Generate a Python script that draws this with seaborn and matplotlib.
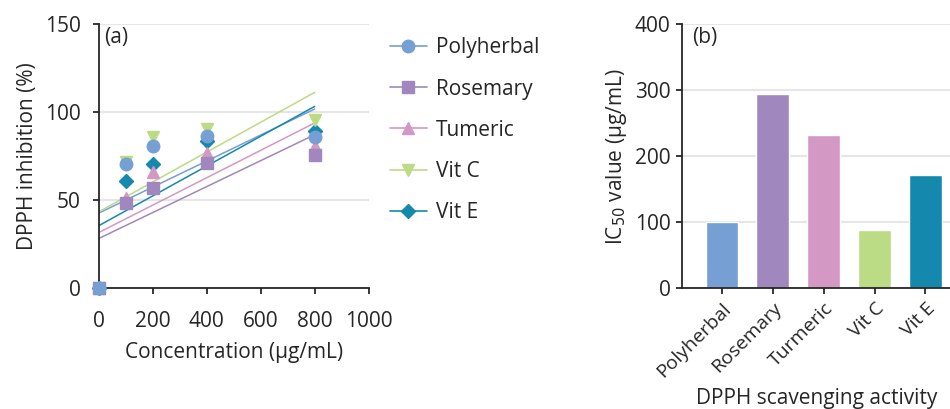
import numpy as np
import pandas as pd
import matplotlib.pyplot as plt
import seaborn as sns
from matplotlib.lines import Line2D

# panel (a) data: DPPH inhibition (%) vs concentration
concentration = [0, 100, 200, 400, 800]
polyherbal = [0, 70.6, 81.0, 86.6, 86.2]
rosemary = [0, 48.5, 57.0, 71.0, 75.5]
tumeric = [0, 51.5, 66.0, 77.0, 80.6]
vit_c = [0, 72.0, 86.0, 90.6, 95.7]
vit_e = [0, 61.0, 70.8, 83.4, 89.6]

series_names = ["Polyherbal", "Rosemary", "Tumeric", "Vit C", "Vit E"]

# panel (b) data: IC50 values
bar_labels = ["Polyherbal", "Rosemary", "Turmeric", "Vit C", "Vit E"]
ic50 = [100, 294, 232, 88, 171]

colors = ["#769fd3", "#a087bd", "#d498c4", "#bbdb84", "#1489ad"]
markers = ["o", "s", "^", "v", "D"]
msizes = [9, 9, 9, 9, 7]

sns.set_style("ticks")
plt.rcParams["font.family"] = ["Open Sans", "DejaVu Sans"]
plt.rcParams["font.size"] = 15
plt.rcParams["axes.linewidth"] = 1.3
plt.rcParams["xtick.major.width"] = 1.3
plt.rcParams["ytick.major.width"] = 1.3
plt.rcParams["xtick.major.size"] = 4.5
plt.rcParams["ytick.major.size"] = 4.5
plt.rcParams["axes.labelsize"] = 15
plt.rcParams["xtick.labelsize"] = 15
plt.rcParams["ytick.labelsize"] = 15

df = pd.DataFrame({
    "conc": concentration * 5,
    "inhib": polyherbal + rosemary + tumeric + vit_c + vit_e,
    "sample": np.repeat(series_names, len(concentration)),
})

fig = plt.figure(figsize=(9.5, 4.09), dpi=100)
ax1 = fig.add_axes([0.104, 0.295, 0.284, 0.646])
ax2 = fig.add_axes([0.7175, 0.295, 0.2835, 0.646])

# --- panel (a) ---
for name, col in zip(series_names, colors):
    sub = df[df["sample"] == name]
    sns.regplot(data=sub, x="conc", y="inhib", ax=ax1, ci=None, scatter=False,
                color=col, line_kws={"lw": 1.1, "zorder": 2})
# reverse order so polyherbal ends up on top
for name, col, mk, ms in list(zip(series_names, colors, markers, msizes))[::-1]:
    sub = df[df["sample"] == name]
    ax1.plot(sub["conc"], sub["inhib"], ls="none", marker=mk, ms=ms,
             color=col, mec=col, zorder=3, clip_on=False)

ax1.set_xlim(0, 1000)
ax1.set_ylim(0, 150)
ax1.set_xticks([0, 200, 400, 600, 800, 1000])
ax1.set_yticks([0, 50, 100, 150])
ax1.tick_params(axis="x", pad=12)
ax1.tick_params(axis="y", pad=8.5)
ax1.yaxis.grid(True, color="#e6e6e6", lw=1.5)
ax1.set_axisbelow(True)
ax1.set_xlabel("Concentration (μg/mL)", labelpad=7)
ax1.set_ylabel("DPPH inhibition (%)", labelpad=5)
ax1.text(0.02, 0.99, "(a)", transform=ax1.transAxes, ha="left", va="top", fontsize=15)
sns.despine(ax=ax1)

handles = [Line2D([], [], color=c, marker=m, ms=ms, lw=1.2, mec=c)
           for c, m, ms in zip(colors, markers, msizes)]
ax1.legend(handles, series_names, loc="upper left", bbox_to_anchor=(1.08, 0.95),
           frameon=False, handlelength=1.75, labelspacing=0.97, handletextpad=0.45,
           borderpad=0, borderaxespad=0)

# --- panel (b) ---
bdf = pd.DataFrame({"sample": bar_labels, "ic50": ic50})
sns.barplot(data=bdf, x="sample", y="ic50", hue="sample", palette=colors,
            width=0.64, ax=ax2, legend=False, saturation=1)
ax2.set_xlim(-0.79, 4.5)
ax2.set_ylim(0, 400)
ax2.set_yticks([0, 100, 200, 300, 400])
ax2.yaxis.grid(True, color="#e6e6e6", lw=1.5)
ax2.set_axisbelow(True)
ax2.set_xlabel("DPPH scavenging activity", labelpad=5)
ax2.set_ylabel("IC$_{50}$ value (μg/mL)")
ax2.tick_params(axis="x", labelrotation=45, labelsize=14)
for lab in ax2.get_xticklabels():
    lab.set_ha("right")
    lab.set_rotation_mode("anchor")
ax2.text(0.04, 0.99, "(b)", transform=ax2.transAxes, ha="left", va="top", fontsize=15)
sns.despine(ax=ax2)

fig.savefig("out.png", dpi=100)
